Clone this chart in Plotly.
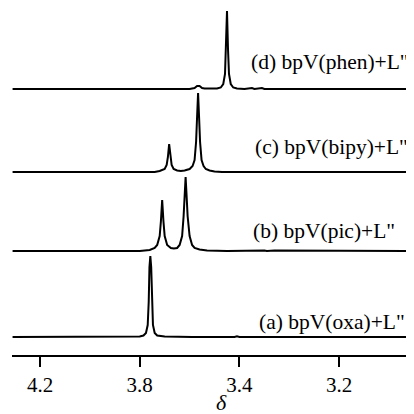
import plotly.graph_objects as go

# ---- data (chemical shift δ, intensity) ----
labels = ['(a) bpV(oxa)+L"', '(b) bpV(pic)+L"', '(c) bpV(bipy)+L"', '(d) bpV(phen)+L"']

a_x = [4.31, 3.90, 3.80, 3.785, 3.775, 3.768, 3.764, 3.761, 3.7575, 3.754, 3.751, 3.747, 3.740, 3.730,
       3.70, 3.62, 3.60, 3.59, 3.42, 3.41, 3.40, 2.70]
a_y = [0, 0, 0.5, 1.5, 4, 12, 35, 70, 81, 70, 35, 12, 4, 1.5,
       0.5, 0, 0.6, 0, 0, 0.6, 0, 0]

b_x = [4.31, 3.80, 3.76, 3.74, 3.73, 3.72, 3.715, 3.71, 3.705, 3.70, 3.69, 3.675, 3.663, 3.65,
       3.64, 3.63, 3.624, 3.62, 3.616, 3.612, 3.608, 3.60, 3.59, 3.58, 3.56, 3.53, 3.45,
       3.30, 3.29, 3.26, 2.70]
b_y = [0, 0, 1, 3, 6, 15, 30, 51, 30, 15, 6, 3, 2.5, 3,
       6, 15, 35, 55, 74, 55, 35, 15, 6, 3, 1.5, 0.5, 0,
       0.5, 0, 0.4, 0]

c_x = [4.31, 3.74, 3.72, 3.70, 3.692, 3.687, 3.682, 3.677, 3.672, 3.664, 3.65, 3.635, 3.62, 3.60,
       3.588, 3.58, 3.574, 3.570, 3.566, 3.562, 3.558, 3.552, 3.544, 3.535, 3.52, 3.50, 3.47, 2.70]
c_y = [0, 0, 1, 3, 7, 15, 28, 15, 7, 3, 1.5, 1, 1.5, 3,
       6, 12, 30, 55, 79, 55, 30, 12, 6, 3, 1.5, 0.5, 0, 0]

d_x = [4.31, 3.60, 3.58, 3.57, 3.56, 3.55, 3.54, 3.49, 3.475, 3.465, 3.458, 3.454, 3.45, 3.446,
       3.442, 3.435, 3.425, 3.41, 3.38, 3.35, 3.34, 3.31, 3.30, 2.70]
d_y = [0, 0, 1, 3, 3, 1, 0.5, 0.5, 1.5, 5, 15, 40, 78, 40,
       15, 5, 1.5, 0.5, 0, 1, 0, 1, 0, 0]

tick_vals = [4.2, 3.8, 3.4, 3.0]
tick_text = ["4.2", "3.8", "3.4", "3.2"]

# ---- layout constants ----
offsets = [18, 104, 183, 266]
label_pos = [(2.7276, 33), (2.7677, 124), (2.7155, 208), (2.7115, 293)]

series = [(a_x, a_y), (b_x, b_y), (c_x, c_y), (d_x, d_y)]

fig = go.Figure()
for (xs, ys), off in zip(series, offsets):
    fig.add_trace(go.Scatter(x=xs, y=[v + off for v in ys], mode="lines",
                             line=dict(color="black", width=2), hoverinfo="skip",
                             showlegend=False))

for lab, (lx, ly) in zip(labels, label_pos):
    fig.add_annotation(x=lx, y=ly, xref="x", yref="y", text=lab, showarrow=False,
                       xanchor="right", yanchor="middle",
                       font=dict(family="Liberation Serif", size=21.5, color="black"))

fig.add_annotation(x=0.52, y=-0.138, xref="paper", yref="paper", text="<i>δ</i>", showarrow=False,
                   xanchor="center", yanchor="middle",
                   font=dict(family="Liberation Serif", size=22, color="black"))

fig.update_layout(
    width=406, height=406,
    margin=dict(l=4, r=0, t=0, b=59),
    paper_bgcolor="white", plot_bgcolor="white",
    xaxis=dict(range=[4.3123, 2.7], showgrid=False, zeroline=False,
               showline=True, linecolor="black", linewidth=1.5,
               ticks="outside", ticklen=10, tickwidth=1.5, tickcolor="black",
               tickvals=tick_vals, ticktext=tick_text,
               tickfont=dict(family="Liberation Serif", size=21, color="black")),
    yaxis=dict(range=[0, 347], visible=False),
)

fig.write_html("out.html")
